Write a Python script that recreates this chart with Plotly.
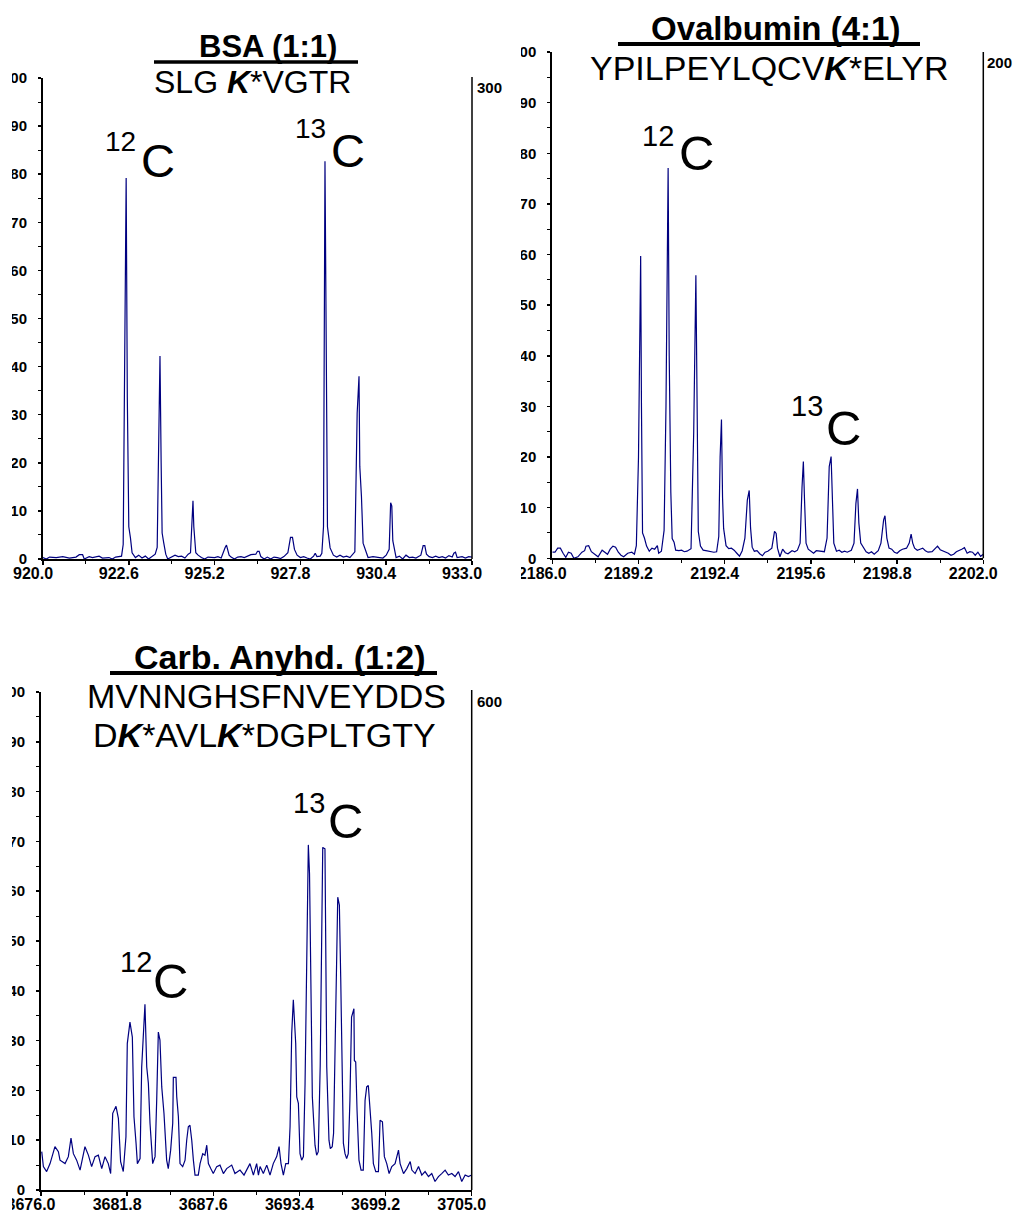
import plotly.graph_objects as go

W, H = 1014, 1212
FONT = "Arial, 'Liberation Sans', sans-serif"
LINE_COLOR = "#000080"

# ---------------- data (m/z, relative intensity) ----------------
bsa_points = [
    (920.0, 0.3), (920.1, 0.0), (920.2, 0.4), (920.4, 0.3), (920.6, 0.5), (920.8, 0.2), (921.0, 0.4),
    (921.1, 0.9), (921.2, 0.9), (921.25, 0.0), (921.4, 0.5), (921.5, 0.3), (921.7, 0.6), (921.8, 0.2),
    (922.0, 0.3), (922.1, 0.0), (922.2, 0.4), (922.3, 0.5), (922.38, 0.6), (922.43, 3.0), (922.48, 45.0),
    (922.52, 79.2), (922.555, 33.7), (922.6, 6.7), (922.65, 4.4), (922.7, 1.3), (922.8, 0.3), (922.9, 0.8),
    (923.0, 0.2), (923.1, 0.6), (923.2, 0.0), (923.3, 0.5), (923.4, 1.0), (923.46, 2.4), (923.51, 28.2),
    (923.545, 42.2), (923.58, 20.0), (923.61, 5.4), (923.66, 3.3), (923.72, 1.0), (923.78, 0.0), (923.9, 0.4),
    (924.0, 0.8), (924.1, 0.5), (924.2, 0.6), (924.3, 0.2), (924.4, 1.0), (924.47, 1.3), (924.51, 9.5),
    (924.545, 12.1), (924.57, 6.7), (924.6, 4.4), (924.63, 1.3), (924.7, 0.8), (924.8, 0.3), (924.9, 0.0),
    (925.0, 0.4), (925.2, 0.3), (925.3, 0.5), (925.4, 0.2), (925.45, 1.3), (925.52, 2.4), (925.56, 2.9),
    (925.6, 1.5), (925.64, 0.8), (925.7, 0.4), (925.8, 0.0), (925.9, 0.4), (926.0, 0.5), (926.1, 0.3),
    (926.2, 0.6), (926.3, 0.9), (926.45, 1.0), (926.5, 1.6), (926.55, 1.6), (926.6, 0.5), (926.7, 0.0),
    (926.8, 0.4), (926.9, 0.0), (927.0, 0.4), (927.1, 0.3), (927.2, 0.1), (927.3, 0.5), (927.42, 1.3),
    (927.5, 4.5), (927.56, 4.5), (927.62, 2.0), (927.7, 0.8), (927.8, 0.3), (927.9, 0.5), (928.0, 0.2),
    (928.1, 0.0), (928.2, 0.6), (928.25, 1.2), (928.3, 0.5), (928.4, 0.6), (928.45, 1.2), (928.5, 6.7),
    (928.545, 82.7), (928.58, 40.0), (928.62, 6.7), (928.7, 2.3), (928.8, 0.8), (928.9, 0.4), (929.0, 0.8),
    (929.1, 0.4), (929.2, 0.6), (929.3, 0.3), (929.45, 1.5), (929.52, 30.3), (929.576, 38.0), (929.6, 19.2),
    (929.65, 13.0), (929.7, 3.3), (929.8, 1.2), (929.85, 0.3), (930.0, 0.5), (930.2, 0.4), (930.3, 0.2),
    (930.4, 0.8), (930.49, 2.0), (930.535, 11.7), (930.57, 11.0), (930.6, 3.8), (930.64, 2.5), (930.7, 0.3),
    (930.8, 0.6), (930.9, 0.0), (931.0, 0.8), (931.1, 0.3), (931.2, 0.4), (931.3, 0.2), (931.45, 0.8),
    (931.52, 2.8), (931.57, 2.8), (931.62, 1.0), (931.7, 0.5), (931.8, 0.3), (931.9, 0.6), (932.0, 0.3),
    (932.1, 0.5), (932.2, 0.2), (932.3, 0.7), (932.4, 0.4), (932.45, 1.2), (932.5, 1.4), (932.55, 0.3),
    (932.7, 0.5), (932.8, 0.2), (932.9, 0.5), (933.0, 0.4),
]

ova_points = [
    (2186.0, 1.2), (2186.1, 1.2), (2186.2, 2.0), (2186.3, 2.0), (2186.4, 1.0), (2186.5, 0.2), (2186.6, 1.2),
    (2186.7, 1.0), (2186.8, 0.0), (2186.95, 0.3), (2187.1, 1.2), (2187.2, 1.5), (2187.25, 2.4), (2187.35, 2.5),
    (2187.45, 1.3), (2187.6, 0.8), (2187.7, 0.3), (2187.85, 1.6), (2187.95, 1.1), (2188.05, 0.8), (2188.15, 1.8),
    (2188.25, 2.4), (2188.35, 2.2), (2188.45, 1.2), (2188.55, 0.6), (2188.65, 0.3), (2188.8, 1.0), (2188.95, 1.2),
    (2189.05, 0.8), (2189.12, 2.5), (2189.2, 20.0), (2189.28, 59.7), (2189.31, 30.0), (2189.35, 5.0),
    (2189.42, 4.0), (2189.5, 2.4), (2189.6, 1.4), (2189.7, 2.0), (2189.8, 1.8), (2189.9, 2.5), (2189.95, 1.0),
    (2190.05, 1.4), (2190.15, 5.5), (2190.22, 30.0), (2190.3, 77.1), (2190.34, 40.0), (2190.4, 13.0),
    (2190.45, 3.9), (2190.52, 3.2), (2190.58, 1.6), (2190.7, 1.5), (2190.8, 1.6), (2190.9, 1.3), (2191.0, 1.4),
    (2191.15, 1.9), (2191.25, 25.0), (2191.33, 55.9), (2191.38, 30.0), (2191.42, 5.3), (2191.5, 2.4),
    (2191.6, 1.6), (2191.7, 1.5), (2191.8, 1.4), (2191.9, 1.4), (2192.0, 1.2), (2192.1, 1.3), (2192.18, 4.3),
    (2192.23, 20.0), (2192.28, 27.4), (2192.32, 12.0), (2192.36, 5.9), (2192.45, 2.5), (2192.55, 1.9),
    (2192.65, 2.0), (2192.75, 1.6), (2192.85, 1.0), (2192.95, 0.4), (2193.05, 1.5), (2193.15, 4.0),
    (2193.24, 11.5), (2193.31, 13.4), (2193.36, 6.0), (2193.42, 2.2), (2193.5, 1.4), (2193.6, 1.5),
    (2193.7, 0.9), (2193.8, 0.5), (2193.9, 1.2), (2194.0, 1.4), (2194.15, 2.0), (2194.25, 5.3), (2194.31, 4.9),
    (2194.36, 2.0), (2194.45, 0.3), (2194.55, 1.8), (2194.65, 1.1), (2194.75, 0.9), (2194.9, 1.5),
    (2195.0, 1.3), (2195.1, 1.6), (2195.2, 3.0), (2195.27, 14.0), (2195.32, 19.1), (2195.36, 12.0),
    (2195.42, 3.0), (2195.5, 1.8), (2195.6, 1.4), (2195.7, 1.0), (2195.8, 1.5), (2195.9, 1.4), (2196.0, 1.3),
    (2196.1, 1.3), (2196.2, 4.0), (2196.28, 18.1), (2196.35, 20.1), (2196.4, 10.0), (2196.45, 3.0),
    (2196.55, 1.4), (2196.65, 1.6), (2196.75, 1.2), (2196.85, 1.4), (2196.95, 1.2), (2197.1, 1.6),
    (2197.2, 3.0), (2197.27, 10.8), (2197.33, 13.7), (2197.38, 7.0), (2197.45, 3.0), (2197.55, 2.0),
    (2197.65, 1.3), (2197.75, 1.0), (2197.85, 1.3), (2197.95, 0.8), (2198.1, 1.5), (2198.2, 3.0),
    (2198.3, 7.6), (2198.35, 8.4), (2198.42, 4.0), (2198.5, 2.0), (2198.6, 1.8), (2198.7, 1.2), (2198.8, 1.0),
    (2198.9, 1.5), (2199.0, 1.8), (2199.15, 2.0), (2199.25, 3.0), (2199.32, 4.8), (2199.38, 3.0),
    (2199.45, 2.0), (2199.55, 1.6), (2199.65, 1.8), (2199.75, 2.0), (2199.85, 1.5), (2199.95, 1.2),
    (2200.1, 1.3), (2200.2, 1.8), (2200.3, 2.4), (2200.4, 1.7), (2200.5, 1.5), (2200.6, 1.2), (2200.7, 1.0),
    (2200.8, 0.6), (2200.9, 0.8), (2201.0, 1.3), (2201.1, 1.5), (2201.2, 1.8), (2201.3, 2.1), (2201.4, 1.0),
    (2201.5, 1.3), (2201.6, 1.2), (2201.7, 0.6), (2201.8, 1.2), (2201.9, 0.4), (2202.0, 0.8),
]

ca_points = [
    (3676.05, 7.7), (3676.16, 4.7), (3676.38, 3.7), (3676.61, 5.3), (3676.94, 8.7), (3677.17, 7.7),
    (3677.28, 6.0), (3677.62, 5.3), (3677.84, 6.7), (3678.02, 10.4), (3678.18, 7.3), (3678.40, 6.0),
    (3678.63, 4.0), (3678.96, 8.7), (3679.19, 7.0), (3679.41, 4.7), (3679.64, 6.7), (3679.86, 7.0),
    (3680.09, 4.3), (3680.31, 6.7), (3680.53, 5.3), (3680.69, 3.3), (3680.83, 15.4), (3681.05, 16.8),
    (3681.21, 14.4), (3681.27, 11.4), (3681.36, 5.7), (3681.54, 3.7), (3681.72, 10.7), (3681.81, 29.4),
    (3681.99, 33.7), (3682.15, 30.7), (3682.26, 14.7), (3682.40, 9.4), (3682.49, 5.3), (3682.67, 6.3),
    (3682.78, 24.7), (3683.00, 37.3), (3683.12, 24.7), (3683.23, 21.4), (3683.34, 13.4), (3683.52, 5.3),
    (3683.68, 6.7), (3683.79, 18.0), (3683.90, 31.7), (3684.01, 30.1), (3684.13, 20.7), (3684.28, 15.4),
    (3684.46, 6.0), (3684.57, 4.3), (3684.73, 8.0), (3684.87, 13.4), (3684.91, 22.6), (3685.09, 22.6),
    (3685.14, 18.7), (3685.25, 14.7), (3685.36, 5.3), (3685.54, 4.7), (3685.70, 6.0), (3685.81, 10.0),
    (3685.92, 12.7), (3686.03, 13.0), (3686.15, 10.0), (3686.26, 6.0), (3686.37, 3.0), (3686.59, 3.0),
    (3686.71, 5.3), (3686.89, 7.3), (3687.04, 7.0), (3687.16, 9.0), (3687.27, 5.3), (3687.43, 4.3),
    (3687.60, 3.3), (3687.83, 4.7), (3688.05, 5.0), (3688.28, 3.3), (3688.50, 4.3), (3688.84, 5.0),
    (3689.06, 3.3), (3689.40, 4.0), (3689.67, 3.0), (3690.07, 5.3), (3690.30, 3.0), (3690.52, 5.3),
    (3690.64, 3.0), (3690.75, 4.7), (3690.97, 3.3), (3691.20, 5.0), (3691.42, 3.0), (3691.64, 5.3),
    (3691.87, 6.7), (3692.03, 8.7), (3692.16, 5.3), (3692.32, 3.0), (3692.48, 5.3), (3692.66, 5.3),
    (3692.77, 12.7), (3692.88, 31.4), (3692.99, 38.2), (3693.15, 29.4), (3693.22, 18.7), (3693.33, 17.4),
    (3693.44, 7.3), (3693.55, 6.0), (3693.67, 6.7), (3693.78, 21.4), (3693.92, 50.0), (3694.00, 69.3),
    (3694.08, 63.5), (3694.18, 36.1), (3694.27, 18.7), (3694.45, 9.0), (3694.56, 7.0), (3694.67, 7.7),
    (3694.80, 25.0), (3694.97, 68.8), (3695.12, 68.5), (3695.24, 24.7), (3695.30, 16.0), (3695.39, 10.0),
    (3695.48, 8.3), (3695.61, 8.7), (3695.70, 11.4), (3695.79, 24.0), (3695.90, 45.0), (3695.98, 58.8),
    (3696.09, 57.2), (3696.18, 42.7), (3696.29, 22.7), (3696.36, 9.4), (3696.47, 7.3), (3696.58, 6.3),
    (3696.69, 7.3), (3696.80, 18.0), (3696.91, 34.7), (3697.07, 36.4), (3697.10, 26.0), (3697.19, 25.7),
    (3697.28, 16.0), (3697.41, 6.0), (3697.55, 4.0), (3697.70, 4.0), (3697.82, 18.0), (3697.93, 20.7),
    (3698.04, 21.0), (3698.16, 16.7), (3698.27, 11.4), (3698.38, 5.3), (3698.54, 3.7), (3698.72, 3.7),
    (3698.83, 14.0), (3698.99, 13.7), (3699.12, 6.7), (3699.28, 5.3), (3699.44, 3.3), (3699.62, 4.7),
    (3699.84, 5.3), (3700.07, 8.0), (3700.18, 5.3), (3700.41, 3.3), (3700.63, 4.3), (3700.86, 5.7),
    (3700.97, 4.0), (3701.19, 3.3), (3701.42, 4.7), (3701.64, 3.0), (3701.86, 3.7), (3702.09, 2.7),
    (3702.31, 3.3), (3702.53, 1.7), (3702.76, 2.7), (3702.98, 3.3), (3703.21, 4.0), (3703.43, 3.0),
    (3703.66, 3.3), (3703.88, 2.7), (3704.11, 3.7), (3704.33, 1.7), (3704.56, 3.0), (3704.78, 2.7),
    (3705.0, 3.0),
]

bsa_xticks = [920.0, 922.6, 925.2, 927.8, 930.4, 933.0]
ova_xticks = [2186.0, 2189.2, 2192.4, 2195.6, 2198.8, 2202.0]
ca_xticks = [3676.0, 3681.8, 3687.6, 3693.4, 3699.2, 3705.0]
y_ticks = [0, 10, 20, 30, 40, 50, 60, 70, 80, 90, 100]
right_labels = ["300", "200", "600"]
titles = ["BSA (1:1)", "Ovalbumin (4:1)", "Carb. Anyhd. (1:2)"]
peptides = [
    ["SLG <b><i>K</i></b>*VGTR"],
    ["YPILPEYLQCV<b><i>K</i></b>*ELYR"],
    ["MVNNGHSFNVEYDDS", "D<b><i>K</i></b>*AVL<b><i>K</i></b>*DGPLTGTY"],
]
isotope_labels = [["12", "13"], ["12", "13"], ["13", "12"]]


def px(x):
    return x / W


def py(y):
    return 1 - y / H


# panel geometry in pixels: (left, right, top(100), bottom(0))
panels = [
    dict(pts=bsa_points, ticks=bsa_xticks, minor=1.3, box=(43, 472, 78, 559)),
    dict(pts=ova_points, ticks=ova_xticks, minor=1.6, box=(552.3, 983.3, 52, 558.3)),
    dict(pts=ca_points, ticks=ca_xticks, minor=2.9, box=(41, 471.7, 692, 1190)),
]

fig = go.Figure()
layout = dict(
    template="none",
    width=W, height=H, autosize=False,
    margin=dict(l=0, r=0, t=0, b=0, pad=0),
    paper_bgcolor="white", plot_bgcolor="white",
    showlegend=False,
)

for i, p in enumerate(panels):
    n = "" if i == 0 else str(i + 1)
    mz = [a for a, b in p["pts"]]
    inten = [b for a, b in p["pts"]]
    fig.add_trace(go.Scatter(x=mz, y=inten, mode="lines",
                             line=dict(color=LINE_COLOR, width=1.2),
                             xaxis="x" + n, yaxis="y" + n, hoverinfo="skip"))
    l, r, t, b = p["box"]
    ticks = p["ticks"]
    layout["xaxis" + n] = dict(
        domain=[px(l), px(r)], range=[ticks[0], ticks[-1]], anchor="y" + n,
        automargin=False,
        tickmode="array", tickvals=ticks, ticktext=[f"{v:.1f}" for v in ticks],
        ticks="outside", ticklen=4, tickwidth=1.5, tickcolor="black",
        showline=True, linewidth=2, linecolor="black",
        showgrid=False, zeroline=False, ticklabelshift=-10, ticklabelstandoff=-5,
        tickfont=dict(family=FONT, size=16, color="black", weight="bold"),
        minor=dict(ticks="outside", ticklen=3, tickwidth=1, tickcolor="black",
                   tick0=ticks[0], dtick=p["minor"], showgrid=False),
        fixedrange=True,
    )
    layout["yaxis" + n] = dict(
        domain=[py(b), py(t)], range=[0, 100], anchor="x" + n,
        automargin=False,
        tickmode="array", tickvals=y_ticks, ticktext=[str(v) for v in y_ticks],
        ticks="outside", ticklen=3, tickwidth=1.5, tickcolor="black",
        showline=True, linewidth=2, linecolor="black",
        showgrid=False, zeroline=False, ticklabelstandoff=8,
        tickfont=dict(family=FONT, size=15, color="black", weight="bold"),
        minor=dict(ticks="outside", ticklen=3, tickwidth=1, tickcolor="black",
                   tick0=0, dtick=5, showgrid=False),
        fixedrange=True,
    )

fig.update_layout(**layout)

annotations = []
shapes = []


def ann(text, x, y, size, xanchor="center", bold=False):
    annotations.append(dict(
        text=("<b>%s</b>" % text) if bold else text,
        x=px(x), y=py(y), xref="paper", yref="paper",
        xanchor=xanchor, yanchor="middle", showarrow=False,
        font=dict(family=FONT, size=size, color="black"),
    ))


def hline(x0, x1, y, w):
    shapes.append(dict(type="line", xref="paper", yref="paper",
                       x0=px(x0), x1=px(x1), y0=py(y), y1=py(y),
                       line=dict(color="black", width=w), layer="above"))


def vline(x, y0, y1, w):
    shapes.append(dict(type="line", xref="paper", yref="paper",
                       x0=px(x), x1=px(x), y0=py(y0), y1=py(y1),
                       line=dict(color="black", width=w), layer="above"))


# Panel 1: BSA
ann(titles[0], 267.5, 46.5, 31, bold=True)
hline(154, 358, 62, 3.5)
ann(peptides[0][0], 252, 82.5, 32)
ann(isotope_labels[0][0], 120, 141, 28)
ann("C", 157.5, 160, 47)
ann(isotope_labels[0][1], 310, 129, 28)
ann("C", 347.5, 150, 47)
vline(472, 77, 559, 1.5)
ann(right_labels[0], 475, 88, 15, xanchor="left", bold=True)

# Panel 2: Ovalbumin
ann(titles[1], 775, 28.5, 33, bold=True)
hline(618, 920, 44, 4)
ann(peptides[1][0], 768.5, 67.5, 34)
ann(isotope_labels[1][0], 658, 136, 29)
ann("C", 696.7, 153.3, 49)
ann(isotope_labels[1][1], 806.7, 406, 29)
ann("C", 843.3, 427.5, 49)
vline(983.3, 52, 558.3, 1.5)
ann(right_labels[1], 985, 62.5, 15, xanchor="left", bold=True)

# Panel 3: Carbonic anhydrase
ann(titles[2], 280, 656.5, 34, bold=True)
hline(110, 437, 673, 4)
ann(peptides[2][0], 266.7, 695.5, 34)
ann(peptides[2][1], 264, 735, 34)
ann(isotope_labels[2][0], 309, 802.5, 29)
ann("C", 345, 821, 49)
ann(isotope_labels[2][1], 135.5, 961.7, 29)
ann("C", 170.7, 981, 49)
vline(471.7, 690, 1190, 1.5)
ann(right_labels[2], 475, 701, 15, xanchor="left", bold=True)

# white masks reproducing the cropped left edges of the original panels
shapes.append(dict(type="rect", xref="paper", yref="paper", x0=0, x1=px(12), y0=0, y1=1,
                   fillcolor="white", line=dict(width=0), layer="above"))
shapes.append(dict(type="rect", xref="paper", yref="paper", x0=px(501), x1=px(521), y0=py(600), y1=1,
                   fillcolor="white", line=dict(width=0), layer="above"))

fig.update_layout(annotations=annotations, shapes=shapes)

fig.write_html("out.html", config={"displayModeBar": False, "staticPlot": True},
               post_script="document.body.style.margin='0';")
